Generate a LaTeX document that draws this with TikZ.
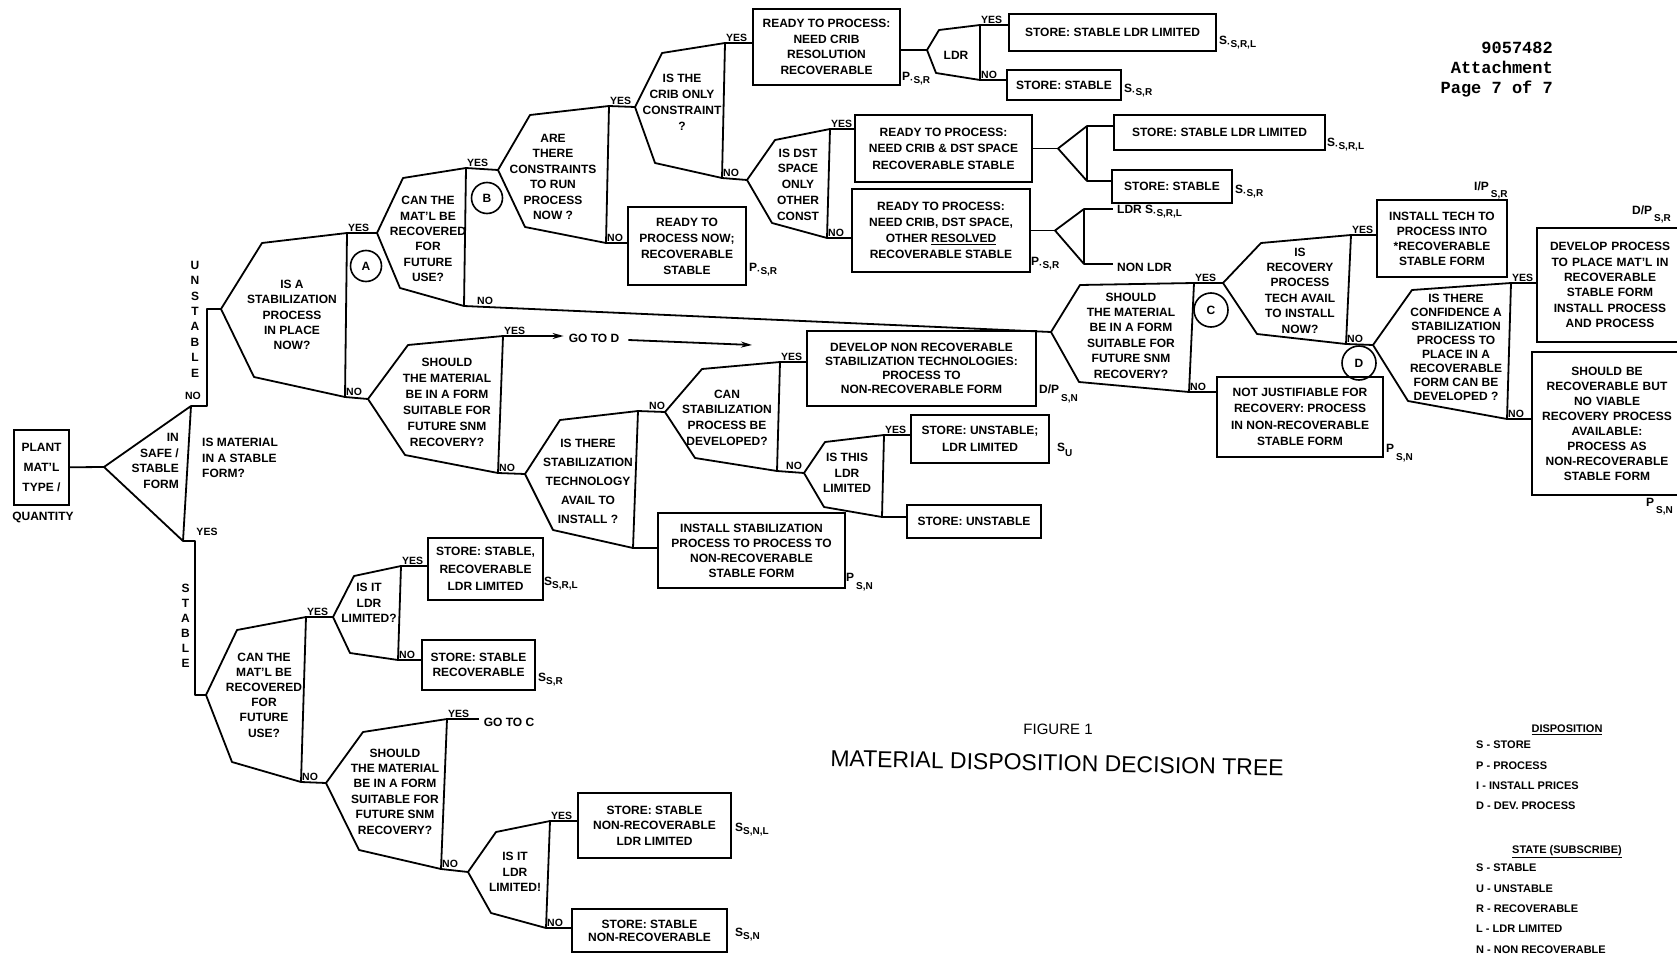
\documentclass[tikz,border=0pt]{standalone}
\usepackage{fontspec}
\setmainfont{Liberation Sans}
\newfontfamily\monofont{Liberation Mono}
\usetikzlibrary{arrows.meta}

\newcommand{\qfont}{\bfseries\fontsize{12}{15.4}\selectfont}
\newcommand{\ynfont}{\bfseries\fontsize{10.5}{12}\selectfont}
\newcommand{\sub}[3][3pt]{#2\raisebox{-#1}{\fontsize{10}{10}\selectfont #3}}
% decision shape: name, tip, top left, top right, bottom right, bottom left
\newcommand{\decision}[6]{%
  \coordinate (#1-tip) at (#2);
  \coordinate (#1-tl) at (#3);
  \coordinate (#1-tr) at (#4);
  \coordinate (#1-br) at (#5);
  \coordinate (#1-bl) at (#6);
  \draw[ln] (#1-tip) -- (#1-tl) -- (#1-tr) -- (#1-br) -- (#1-bl) -- cycle;
}

\tikzset{
  ln/.style={line width=1.8pt, line join=round},
  q/.style={align=center, font=\qfont, inner sep=0pt},
  box/.style={draw, line width=1.7pt, align=center, font=\qfont, inner sep=1pt},
  yn/.style={font=\ynfont, inner sep=1pt, anchor=south west},
  tag/.style={font=\qfont, inner sep=0pt, anchor=west},
  letter/.style={circle, draw, line width=1.6pt, minimum size=31pt, inner sep=0pt, font=\qfont},
  >={Stealth[length=11pt,width=6pt]}
}

\begin{document}
\begin{tikzpicture}[x=1pt,y=-1pt]
\useasboundingbox (0,0) rectangle (1677,960);
\clip (0,0) rectangle (1677,960);

% header
\node[anchor=east, align=right, inner sep=0pt, font=\monofont\bfseries\fontsize{17}{20}\selectfont] (docno) at (1553,70) {9057482\\Attachment\\Page 7 of 7};

% start of the tree
\node[box, minimum width=55pt, minimum height=75pt, font=\bfseries\fontsize{12}{20}\selectfont] (plant) at (41.5,467.5) {PLANT\\MAT'L\\TYPE /};
\node[q] (qty) at (43,517) {QUANTITY};
\coordinate (t0-tip) at (104,467);
\coordinate (t0-top) at (191,406);
\coordinate (t0-bot) at (183,541);
\draw[ln] (t0-tip) -- (t0-top) -- (t0-bot) -- cycle;
\draw[ln] (plant) -- (t0-tip);
\node[q, anchor=east, align=right] (safe) at (179,461) {IN\\SAFE /\\STABLE\\FORM};
\node[q, anchor=west, align=left] (isstable) at (202,458) {IS MATERIAL\\IN A STABLE\\FORM?};
\node[yn, anchor=center] (t0-no) at (193,396) {NO};
\node[yn, anchor=center] (t0-yes) at (207,532) {YES};
\node[q] (unstable) at (195,319) {U\\N\\S\\T\\A\\B\\L\\E};
\node[q, font=\bfseries\fontsize{12}{15}\selectfont] (stable) at (185.5,625.5) {S\\T\\A\\B\\L\\E};
\coordinate (uns-a) at (207,406);
\coordinate (uns-b) at (207,309);
\coordinate (stb-a) at (195,541);
\coordinate (stb-b) at (195,695);

% unstable branch
\decision{stab}{221,309}{262,243}{347,233}{345,397}{254,377}
\node[q] (stab) at (292,315) {IS A\\STABILIZATION\\PROCESS\\IN PLACE\\NOW?};
\draw[ln] (t0-top) -- (uns-a) -- (uns-b) -- (stab-tip);
\node[letter] (mark-a) at (366,266) {A};

\decision{recov}{377,233}{403,178}{466,168}{464,306}{400,288}
\node[q] (recov) at (428,239) {CAN THE\\MAT'L BE\\RECOVERED\\FOR\\FUTURE\\USE?};
\node[letter] (mark-b) at (487,198) {B};

\decision{constr}{498,170}{530,115}{609,106}{606,243}{525,227}
\node[q] (constr) at (553,177) {ARE\\THERE\\CONSTRAINTS\\TO RUN\\PROCESS\\NOW ?};

\decision{crib}{635,107}{662,53}{725,43}{722,178}{655,163}
\node[q, font=\bfseries\fontsize{12}{16}\selectfont] (crib) at (682,102) {IS THE\\CRIB ONLY\\CONSTRAINT\\?};

\decision{dst}{747,180}{775,140}{830,129}{827,238}{772,223}
\node[q, font=\bfseries\fontsize{12}{15.7}\selectfont] (dst) at (798,184.5) {IS DST\\SPACE\\ONLY\\OTHER\\CONST};

\node[box, minimum width=118pt, minimum height=78pt, font=\bfseries\fontsize{12}{16}\selectfont] (nowbox) at (687,246) {READY TO\\PROCESS NOW;\\RECOVERABLE\\STABLE};
\node[box, minimum width=147pt, minimum height=76pt, font=\bfseries\fontsize{12}{15.7}\selectfont] (cribres) at (826.5,47) {READY TO PROCESS:\\NEED CRIB\\RESOLUTION\\RECOVERABLE};
\node[box, minimum width=177pt, minimum height=67pt, font=\bfseries\fontsize{12}{16.5}\selectfont] (cribdst) at (943.5,148.5) {READY TO PROCESS:\\NEED CRIB \& DST SPACE\\RECOVERABLE STABLE};
\node[box, minimum width=178pt, minimum height=83pt, font=\bfseries\fontsize{12}{16}\selectfont] (other) at (941,230.5) {READY TO PROCESS:\\NEED CRIB, DST SPACE,\\OTHER \underline{RESOLVED}\\RECOVERABLE STABLE};

\decision{ldr}{927,50}{939,30}{980,25}{980,80}{936,73}
\node[q] (ldr) at (956,55) {LDR};
\node[box, minimum width=207pt, minimum height=37pt] (ldrlim1) at (1112.5,32.5) {STORE: STABLE LDR LIMITED};
\node[box, minimum width=114pt, minimum height=30pt] (stable1) at (1064,85) {STORE: STABLE};

\coordinate (f1-tip) at (1058,148.5);
\coordinate (f1-top) at (1087,126);
\coordinate (f1-bot) at (1087,181);
\draw[ln] (f1-tip) -- (f1-top) -- (f1-bot) -- cycle;
\node[box, minimum width=211pt, minimum height=35pt] (ldrlim2) at (1219.5,132.5) {STORE: STABLE LDR LIMITED};
\node[box, minimum width=120pt, minimum height=33pt] (stable2) at (1172,186.5) {STORE: STABLE};

\coordinate (f2-tip) at (1055,230.5);
\coordinate (f2-top) at (1084,209);
\coordinate (f2-bot) at (1084,264);
\draw[ln] (f2-tip) -- (f2-top) -- (f2-bot) -- cycle;
\coordinate (f2-topend) at (1113,209);
\coordinate (f2-botend) at (1113,264);

% connectors of the upper part
\draw[ln] (stab-tr) -- (recov-tip);
\draw[ln] (recov-tr) -- (constr-tip);
\draw[ln] (constr-tr) -- (crib-tip);
\draw[ln] (constr-br) -- (constr-br -| nowbox.west);
\draw[ln] (crib-tr) -- (crib-tr -| cribres.west);
\draw[ln] (crib-br) -- (dst-tip);
\draw[ln] (dst-tr) -- (dst-tr -| cribdst.west);
\draw[ln] (dst-br) -- (dst-br -| other.west);
\draw[ln] (cribres.east |- ldr-tip) -- (ldr-tip);
\draw[ln] (ldr-tr) -- (ldr-tr -| ldrlim1.west);
\draw[ln] (ldr-br) -- (ldr-br -| stable1.west);
\draw[ln] (cribdst.east) -- (f1-tip);
\draw[ln] (f1-top) -- (f1-top -| ldrlim2.west);
\draw[ln] (f1-bot) -- (f1-bot -| stable2.west);
\draw[ln] (other.east) -- (f2-tip);
\draw[ln] (f2-top) -- (f2-topend);
\draw[ln] (f2-bot) -- (f2-botend);

\node[yn] (stab-yes) at (stab-tr) {YES};
\node[yn] (stab-no) at (stab-br) {NO};
\node[yn] (recov-yes) at (recov-tr) {YES};
\node[yn, xshift=12pt] (recov-no) at (recov-br) {NO};
\node[yn] (constr-yes) at (constr-tr) {YES};
\node[yn] (constr-no) at (constr-br) {NO};
\node[yn] (crib-yes) at (crib-tr) {YES};
\node[yn] (crib-no) at (crib-br) {NO};
\node[yn] (dst-yes) at (dst-tr) {YES};
\node[yn] (dst-no) at (dst-br) {NO};
\node[yn] (ldr-yes) at (ldr-tr) {YES};
\node[yn] (ldr-no) at (ldr-br) {NO};

\node[tag] (tag-now) at (749,270) {\sub{P}{·S,R}};
\node[tag] (tag-cribres) at (902,79) {\sub{P}{·S,R}};
\node[tag] (tag-other) at (1031,264) {\sub{P}{·S,R}};
\node[tag] (tag-ldrlim1) at (1219,43) {\sub{S}{·S,R,L}};
\node[tag] (tag-stable1) at (1124,91) {\sub{S}{·S,R}};
\node[tag] (tag-ldrlim2) at (1327,145) {\sub{S}{·S,R,L}};
\node[tag] (tag-stable2) at (1235,192) {\sub{S}{·S,R}};
\node[tag] (tag-f2top) at (1117,212) {LDR \sub{S}{·S,R,L}};
\node[tag] (tag-f2bot) at (1117,267) {NON LDR};

% no stabilization process in place
\decision{should1}{368,399}{408,345}{503,336}{498,473}{405,455}
\node[q, font=\bfseries\fontsize{12}{16}\selectfont] (should1) at (447,402) {SHOULD\\THE MATERIAL\\BE IN A FORM\\SUITABLE FOR\\FUTURE SNM\\RECOVERY?};
\draw[ln] (stab-br) -- (should1-tip);
\node[q, inner sep=5pt] (gotoD) at (594,338) {GO TO D};
\coordinate (toD) at (752,345);
\draw[ln, ->] (should1-tr) -- (should1-tr -| gotoD.west);
\draw[ln, ->] (gotoD.east) ++(4,2) -- (toD);

\decision{tech}{525,474}{560,420}{638,411}{633,548}{553,530}
\node[q, font=\bfseries\fontsize{12}{19}\selectfont] (tech) at (588,481) {IS THERE\\STABILIZATION\\TECHNOLOGY\\AVAIL TO\\INSTALL ?};
\draw[ln] (should1-br) -- (tech-tip);

\decision{canstab}{665,412}{702,369}{780,362}{777,471}{695,458}
\node[q, font=\bfseries\fontsize{12}{15.7}\selectfont] (canstab) at (727,417.5) {CAN\\STABILIZATION\\PROCESS BE\\DEVELOPED?};
\draw[ln] (tech-tr) -- (canstab-tip);
\node[box, minimum width=187pt, minimum height=75pt, font=\bfseries\fontsize{12}{15}\selectfont] (installstab) at (751.5,550.5) {INSTALL STABILIZATION\\PROCESS TO PROCESS TO\\NON-RECOVERABLE\\STABLE FORM};
\draw[ln] (tech-br) -- (tech-br -| installstab.west);

\node[box, minimum width=229pt, minimum height=75pt, font=\bfseries\fontsize{12}{14}\selectfont] (devnon) at (921.5,368.5) {DEVELOP NON RECOVERABLE\\STABILIZATION TECHNOLOGIES:\\PROCESS TO\\NON-RECOVERABLE FORM};
\draw[ln] (canstab-tr) -- (canstab-tr -| devnon.west);

\decision{isthis}{804,473}{825,442}{884,435}{882,517}{824,507}
\node[q] (isthis) at (847,473) {IS THIS\\LDR\\LIMITED};
\draw[ln] (canstab-br) -- (isthis-tip);
\node[box, minimum width=138pt, minimum height=48pt, font=\bfseries\fontsize{12}{17}\selectfont] (unstldr) at (980,439) {STORE: UNSTABLE;\\LDR LIMITED};
\node[box, minimum width=134pt, minimum height=33pt] (unst) at (974,521.5) {STORE: UNSTABLE};
\draw[ln] (isthis-tr) -- (isthis-tr -| unstldr.west);
\draw[ln] (isthis-br) -- (isthis-br -| unst.west);

\node[yn] (should1-yes) at (should1-tr) {YES};
\node[yn] (should1-no) at (should1-br) {NO};
\node[yn, xshift=10pt] (tech-no) at (tech-tr) {NO};
\node[yn] (canstab-yes) at (canstab-tr) {YES};
\node[yn, xshift=8pt] (canstab-no) at (canstab-br) {NO};
\node[yn] (isthis-yes) at (isthis-tr) {YES};

\node[tag] (tag-installstab) at (846,582) {\sub[8pt]{P\,}{S,N}};
\node[tag] (tag-devnon) at (1039,394) {\sub[8pt]{D/P\,}{S,N}};
\node[tag] (tag-unstldr) at (1057,450) {\sub[5pt]{S}{U}};

% go to C
\decision{shouldC}{1051,332}{1080,285}{1194,283}{1189,392}{1079,382}
\node[q] (shouldC) at (1131,335.5) {SHOULD\\THE MATERIAL\\BE IN A FORM\\SUITABLE FOR\\FUTURE SNM\\RECOVERY?};
\draw[ln] (recov-br) -- (shouldC-tip);
\node[letter, minimum size=34pt] (mark-c) at (1211,310) {C};

\decision{rectech}{1223,283}{1261,243}{1351,235}{1346,344}{1257,334}
\node[q] (rectech) at (1300,290.5) {IS\\RECOVERY\\PROCESS\\TECH AVAIL\\TO INSTALL\\NOW?};
\draw[ln] (shouldC-tr) -- (rectech-tip);
\node[box, minimum width=166pt, minimum height=80pt, font=\bfseries\fontsize{12}{16.5}\selectfont] (notjust) at (1300,417) {NOT JUSTIFIABLE FOR\\RECOVERY: PROCESS\\IN NON-RECOVERABLE\\STABLE FORM};
\draw[ln] (shouldC-br) -- (shouldC-br -| notjust.west);

\node[box, minimum width=130pt, minimum height=77pt, font=\bfseries\fontsize{12}{15}\selectfont] (installtech) at (1442,238.5) {INSTALL TECH TO\\PROCESS INTO\\*RECOVERABLE\\STABLE FORM};
\draw[ln] (rectech-tr) -- (rectech-tr -| installtech.west);

\decision{confid}{1373,345}{1412,290}{1511,283}{1507,419}{1408,401}
\node[q, font=\bfseries\fontsize{12}{14.1}\selectfont] (confid) at (1456,347.5) {IS THERE\\CONFIDENCE A\\STABILIZATION\\PROCESS TO\\PLACE IN A\\RECOVERABLE\\FORM CAN BE\\DEVELOPED ?};
\draw[ln] (rectech-br) -- (confid-tip);
\node[letter, minimum size=34pt] (mark-d) at (1359,363) {D};

% boxes running off the right edge
\node[box, minimum width=166pt, minimum height=114pt, text width=146pt] (devproc) at (1620,285) {\hspace*{-20pt}\parbox{146pt}{\centering DEVELOP PROCESS\\TO PLACE MAT'L IN\\RECOVERABLE\\STABLE FORM\\INSTALL PROCESS\\AND PROCESS}};
\node[box, minimum width=170pt, minimum height=143pt, text width=150pt, font=\bfseries\fontsize{12}{15}\selectfont] (shouldbe) at (1617,423.5) {\hspace*{-20pt}\parbox{150pt}{\centering SHOULD BE\\RECOVERABLE BUT\\NO VIABLE\\RECOVERY PROCESS\\AVAILABLE:\\PROCESS AS\\NON-RECOVERABLE\\STABLE FORM}};
\draw[ln] (confid-tr) -- (confid-tr -| devproc.west);
\draw[ln] (confid-br) -- (confid-br -| shouldbe.west);

\node[yn] (shouldC-yes) at (shouldC-tr) {YES};
\node[yn] (shouldC-no) at (shouldC-br) {NO};
\node[yn] (rectech-yes) at (rectech-tr) {YES};
\node[yn] (rectech-no) at (rectech-br) {NO};
\node[yn] (confid-yes) at (confid-tr) {YES};
\node[yn] (confid-no) at (confid-br) {NO};

\node[tag] (tag-notjust) at (1386,453) {\sub[8pt]{P\,}{S,N}};
\node[tag] (tag-installtech) at (1474,190) {\sub[7pt]{I/P\,}{S,R}};
\node[tag] (tag-devproc) at (1632,214) {\sub[7pt]{D/P\,}{S,R}};
\node[tag] (tag-shouldbe) at (1646,507) {\sub[7pt]{P\,}{S,N}};

% stable branch
\decision{recov2}{206,695}{237,630}{306,617}{301,782}{232,762}
\node[q, font=\bfseries\fontsize{12}{15.2}\selectfont] (recov2) at (264,695) {CAN THE\\MAT'L BE\\RECOVERED\\FOR\\FUTURE\\USE?};
\draw[ln] (t0-bot) -- (stb-a) -- (stb-b) -- (recov2-tip);

\decision{ldr2}{333,617}{354,576}{401,566}{398,660}{350,653}
\node[q] (ldr2) at (369,603) {IS IT\\LDR\\LIMITED?};
\draw[ln] (recov2-tr) -- (ldr2-tip);
\node[box, minimum width=115pt, minimum height=62pt, font=\bfseries\fontsize{12}{17.5}\selectfont] (srl) at (485.5,569) {STORE: STABLE,\\RECOVERABLE\\LDR LIMITED};
\node[box, minimum width=113pt, minimum height=50pt] (sr) at (478.5,665) {STORE: STABLE\\RECOVERABLE};
\draw[ln] (ldr2-tr) -- (ldr2-tr -| srl.west);
\draw[ln] (ldr2-br) -- (ldr2-br -| sr.west);

\decision{should2}{326,783}{363,732}{447,719}{441,869}{359,850}
\node[q] (should2) at (395,791.5) {SHOULD\\THE MATERIAL\\BE IN A FORM\\SUITABLE FOR\\FUTURE SNM\\RECOVERY?};
\draw[ln] (recov2-br) -- (should2-tip);
\node[q, inner sep=5pt] (gotoC) at (509,722) {GO TO C};
\draw[ln] (should2-tr) -- (should2-tr -| gotoC.west);

\decision{ldr3}{468,872}{496,832}{550,821}{546,928}{491,913}
\node[q] (ldr3) at (515,872) {IS IT\\LDR\\LIMITED!};
\draw[ln] (should2-br) -- (ldr3-tip);
\node[box, minimum width=153pt, minimum height=65pt] (snl) at (654.5,825.5) {STORE: STABLE\\NON-RECOVERABLE\\LDR LIMITED};
\node[box, minimum width=155pt, minimum height=43pt, font=\bfseries\fontsize{12}{13}\selectfont] (sn) at (649.5,930.5) {STORE: STABLE\\NON-RECOVERABLE};
\draw[ln] (ldr3-tr) -- (ldr3-tr -| snl.west);
\draw[ln] (ldr3-br) -- (ldr3-br -| sn.west);

\node[yn] (recov2-yes) at (recov2-tr) {YES};
\node[yn] (recov2-no) at (recov2-br) {NO};
\node[yn] (ldr2-yes) at (ldr2-tr) {YES};
\node[yn] (ldr2-no) at (ldr2-br) {NO};
\node[yn] (should2-yes) at (should2-tr) {YES};
\node[yn] (should2-no) at (should2-br) {NO};
\node[yn] (ldr3-yes) at (ldr3-tr) {YES};
\node[yn] (ldr3-no) at (ldr3-br) {NO};

\node[tag] (tag-srl) at (544,584) {\sub{S}{S,R,L}};
\node[tag] (tag-sr) at (538,680) {\sub{S}{S,R}};
\node[tag] (tag-snl) at (735,830) {\sub{S}{S,N,L}};
\node[tag] (tag-sn) at (735,935) {\sub{S}{S,N}};

% title
\node[inner sep=0pt, font=\fontsize{15}{18}\selectfont] (fig) at (1058,729) {FIGURE 1};
\node[inner sep=0pt, rotate=-1.2, font=\fontsize{23}{26}\selectfont] (title) at (1057,763) {MATERIAL DISPOSITION DECISION TREE};

% legend
\node[inner sep=0pt, font=\bfseries\fontsize{11}{13}\selectfont] (disp) at (1567,730) {\underline{DISPOSITION}};
\node[anchor=north west, align=left, inner sep=0pt, font=\bfseries\fontsize{11}{20.3}\selectfont] (displist) at (1476,741) {S - STORE\\P - PROCESS\\I - INSTALL PRICES\\D - DEV. PROCESS};
\node[inner sep=0pt, font=\bfseries\fontsize{11}{13}\selectfont] (state) at (1567,852) {\underline{STATE (SUBSCRIBE)}};
\node[anchor=north west, align=left, inner sep=0pt, font=\bfseries\fontsize{11}{20.3}\selectfont] (statelist) at (1476,864) {S - STABLE\\U - UNSTABLE\\R - RECOVERABLE\\L - LDR LIMITED\\N - NON RECOVERABLE};
\end{tikzpicture}
\end{document}
